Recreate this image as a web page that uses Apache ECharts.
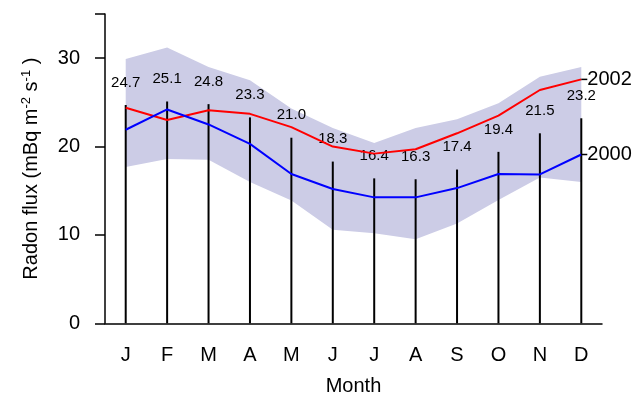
<!DOCTYPE html>
<html>
<head>
<meta charset="utf-8">
<script src="https://cdn.jsdelivr.net/npm/echarts@6/dist/echarts.min.js"></script>
<style>
  html, body { margin: 0; padding: 0; background: #fff; }
  #chart { width: 636px; height: 394px; }
</style>
</head>
<body>
<div id="chart"></div>
<script>
// Monthly radon flux (mBq m^-2 s^-1)
const months = ['J', 'F', 'M', 'A', 'M', 'J', 'J', 'A', 'S', 'O', 'N', 'D'];
// Long-term monthly mean (vertical lines with labels)
const meanFlux = [24.7, 25.1, 24.8, 23.3, 21.0, 18.3, 16.4, 16.3, 17.4, 19.4, 21.5, 23.2];
// Range envelope
const bandLower = [17.7, 18.6, 18.5, 16.0, 13.9, 10.6, 10.2, 9.5, 11.3, 13.95, 16.5, 16.0];
const bandUpper = [29.9, 31.2, 29.0, 27.5, 24.3, 22.1, 20.4, 22.1, 23.1, 24.9, 27.9, 29.0];
// Individual years
const flux2002 = [24.4, 23.0, 24.1, 23.7, 22.2, 20.0, 19.2, 19.7, 21.5, 23.5, 26.4, 27.6];
const flux2000 = [21.9, 24.2, 22.5, 20.3, 16.9, 15.2, 14.25, 14.25, 15.3, 16.9, 16.85, 19.1];
const yTicks = [0, 10, 20, 30];

const FONT = 'Liberation Sans, Arial, sans-serif';
const bandSpan = bandUpper.map((u, i) => +(u - bandLower[i]).toFixed(2));

function endLabel(text) {
  return {
    show: true,
    distance: 0,
    formatter: '{d|}{t|' + text + '}',
    rich: {
      d: { width: 6, height: 1.5, backgroundColor: '#000' },
      t: { fontSize: 20, color: '#000', fontFamily: FONT }
    }
  };
}

const chart = echarts.init(document.getElementById('chart'), null, { renderer: 'canvas' });
chart.setOption({
  animation: false,
  backgroundColor: '#fff',
  grid: { left: 105, right: 34, top: 14, bottom: 70.7, containLabel: false, outerBoundsMode: 'none' },
  xAxis: {
    type: 'category',
    data: months,
    boundaryGap: true,
    name: 'Month',
    nameLocation: 'middle',
    nameGap: 53,
    nameTextStyle: { fontSize: 20, color: '#000', fontFamily: FONT },
    axisLine: { lineStyle: { color: '#000', width: 1.5 } },
    axisTick: { show: false },
    axisLabel: { fontSize: 20, color: '#000', fontFamily: FONT, margin: 22 }
  },
  yAxis: {
    type: 'value',
    min: 0,
    max: 35,
    interval: 10,
    name: 'Radon flux (mBq m{s|-2} s{s|-1} )',
    nameLocation: 'middle',
    nameRotate: 90,
    nameGap: 63,
    nameTextStyle: {
      fontSize: 20, color: '#000', fontFamily: FONT,
      rich: { s: { fontSize: 13, color: '#000', fontFamily: FONT, verticalAlign: 'top', padding: [0, 0, 9, 0] } }
    },
    axisLine: { show: true, lineStyle: { color: '#000', width: 1.5 } },
    axisTick: { show: true, inside: false, length: 10, lineStyle: { color: '#000', width: 1.5 } },
    axisLabel: {
      fontSize: 20, color: '#000', fontFamily: FONT, margin: 25,
      formatter: v => (yTicks.includes(v) ? String(v) : '')
    },
    splitLine: { show: false }
  },
  series: [
    {
      name: 'bandLower', type: 'line', stack: 'band', data: bandLower,
      symbol: 'none', lineStyle: { opacity: 0 }, silent: true, z: 1
    },
    {
      name: 'band', type: 'line', stack: 'band', data: bandSpan,
      symbol: 'none', lineStyle: { opacity: 0 },
      areaStyle: { color: '#cccce6', opacity: 1 }, silent: true, z: 1
    },
    {
      name: 'mean', type: 'bar', data: meanFlux, barWidth: 2,
      itemStyle: { color: '#000' }, z: 3,
      label: {
        show: true, position: 'top', distance: 15,
        fontSize: 15, color: '#000', fontFamily: FONT,
        formatter: p => p.value.toFixed(1)
      }
    },
    {
      name: '2002', type: 'line', data: flux2002, symbol: 'none',
      lineStyle: { color: '#ff0000', width: 2 }, z: 4,
      endLabel: endLabel('2002')
    },
    {
      name: '2000', type: 'line', data: flux2000, symbol: 'none',
      lineStyle: { color: '#0000ff', width: 2 }, z: 4,
      endLabel: endLabel('2000')
    }
  ]
});
</script>
</body>
</html>
